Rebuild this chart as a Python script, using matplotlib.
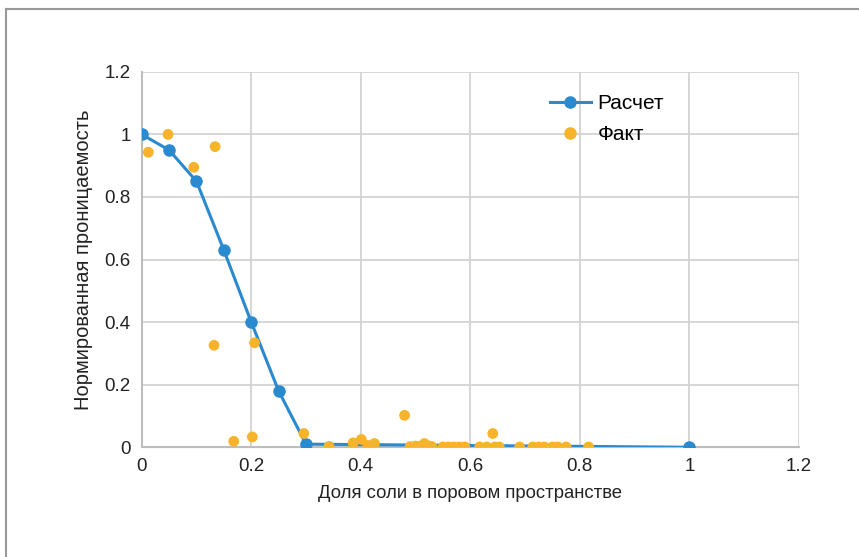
import matplotlib.pyplot as plt
from matplotlib.lines import Line2D

# Расчет
calc_x = [0, 0.05, 0.1, 0.15, 0.2, 0.25, 0.3, 1.0]
calc_y = [1.0, 0.95, 0.85, 0.63, 0.40, 0.18, 0.01, 0.0]

# Факт
fact_x = [0.012, 0.048, 0.095, 0.134, 0.132, 0.206, 0.168, 0.202, 0.296, 0.342,
          0.386, 0.401, 0.413, 0.425, 0.48, 0.49, 0.50, 0.507, 0.516, 0.525,
          0.53, 0.55, 0.56, 0.57, 0.58, 0.59, 0.617, 0.63, 0.641, 0.645,
          0.653, 0.69, 0.714, 0.725, 0.735, 0.75, 0.76, 0.775, 0.816]
fact_y = [0.943, 1.0, 0.895, 0.961, 0.326, 0.334, 0.019, 0.033, 0.044, 0.003,
          0.014, 0.025, 0.006, 0.012, 0.102, 0.002, 0.004, 0.003, 0.012, 0.004,
          0.002, 0.001, 0.001, 0.001, 0.001, 0.001, 0.001, 0.001, 0.044, 0.001,
          0.001, 0.001, 0.001, 0.001, 0.001, 0.001, 0.001, 0.001, 0.001]

x_ticks = [0, 0.2, 0.4, 0.6, 0.8, 1, 1.2]
x_labels = ["0", "0.2", "0.4", "0.6", "0.8", "1", "1.2"]
y_ticks = [0, 0.2, 0.4, 0.6, 0.8, 1, 1.2]
y_labels = ["0", "0.2", "0.4", "0.6", "0.8", "1", "1.2"]

plt.rcParams["font.family"] = ["Liberation Sans", "DejaVu Sans"]

fig = plt.figure(figsize=(8.59, 5.57), dpi=100)
ax = fig.add_axes([0.165, 0.197, 0.765, 0.674])

blue = "#2a8ad0"
orange = "#f7b42a"

ax.plot(calc_x, calc_y, color=blue, lw=2.2, marker="o", ms=8, label="Расчет", zorder=3)
ax.scatter(fact_x, fact_y, color=orange, s=60, label="Факт", zorder=4, edgecolors="none")

ax.set_xlim(0, 1.2)
ax.set_ylim(0, 1.2)
ax.set_xticks(x_ticks)
ax.set_xticklabels(x_labels)
ax.set_yticks(y_ticks)
ax.set_yticklabels(y_labels)
ax.tick_params(length=0, labelsize=13.5, colors="#222222", pad=8)
ax.grid(True, color="#d0d0d0", lw=1.2)
ax.set_axisbelow(True)
for s in ["top", "right"]:
    ax.spines[s].set_visible(False)
for s in ["left", "bottom"]:
    ax.spines[s].set_color("#bdbdbd")
    ax.spines[s].set_linewidth(1.5)

ax.set_xlabel("Доля соли в поровом пространстве", fontsize=13.3, color="#222222", labelpad=7)
ax.set_ylabel("Нормированная проницаемость", fontsize=14.5, color="#222222", labelpad=8)

handles = [
    Line2D([0], [0], color=blue, lw=2.2, marker="o", ms=8),
    Line2D([0], [0], color=orange, lw=0, marker="o", ms=8),
]
ax.legend(handles, ["Расчет", "Факт"], loc="upper left", bbox_to_anchor=(0.592, 0.99),
          frameon=False, fontsize=15, handlelength=2.0, handletextpad=0.3,
          labelspacing=0.55)

# outer frame lines (left and top)
fig.add_artist(Line2D([6 / 859, 6 / 859], [0, 1 - 9 / 557], color="#999999", lw=1.5))
fig.add_artist(Line2D([6 / 859, 1], [1 - 9 / 557, 1 - 9 / 557], color="#999999", lw=1.5))

fig.savefig("out.png", dpi=100)
